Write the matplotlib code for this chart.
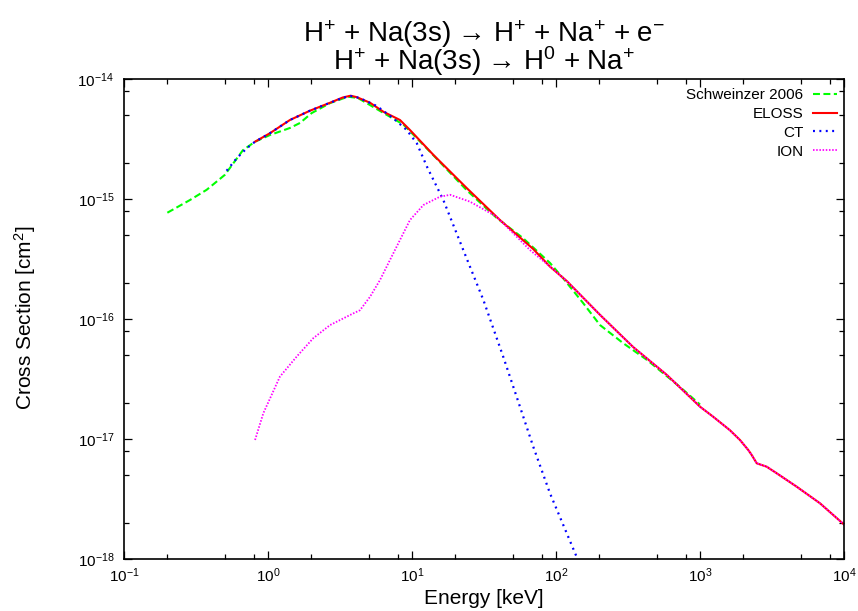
#!/usr/bin/env python
"""H+ + Na(3s) cross sections (ionisation + charge transfer), log-log."""
import matplotlib

matplotlib.use("Agg")
from matplotlib import pyplot as plt  # noqa: E402
from matplotlib import ticker  # noqa: E402

plt.rcParams["font.family"] = ["Liberation Sans", "DejaVu Sans"]
plt.rcParams["mathtext.fontset"] = "custom"
plt.rcParams["mathtext.rm"] = "Liberation Sans"
plt.rcParams["mathtext.it"] = "Liberation Sans:italic"
plt.rcParams["mathtext.default"] = "regular"
plt.rcParams["lines.scale_dashes"] = False

# ---- data (energy in keV, cross section in cm^2) ---------------------------
schw_e = [0.2, 0.287, 0.375, 0.502, 0.67, 0.813, 1.03, 1.42, 1.67, 2.01, 2.70,
          3.59, 4.2, 6.32, 8.71, 13.3, 24.0, 38.7, 59.0, 90.8, 112, 154, 202,
          292, 429, 726, 1000]
schw_s = [7.73e-16, 9.86e-16, 1.2e-15, 1.6e-15, 2.57e-15, 3.02e-15, 3.43e-15,
          3.93e-15, 4.33e-15, 5.23e-15, 6.34e-15, 7.16e-15, 7.0e-15, 5.25e-15,
          4.2e-15, 2.5e-15, 1.19e-15, 7.0e-16, 4.75e-16, 2.95e-16, 2.2e-16,
          1.37e-16, 8.96e-17, 6.34e-17, 4.58e-17, 2.73e-17, 1.95e-17]

eloss_e = [0.813, 1.03, 1.42, 1.96, 2.70, 3.3, 3.75, 4.13, 5.11, 6.32, 8.25,
           9.68, 14.1, 24.0, 40.8, 69.5, 90.8, 119, 202, 343, 590, 1000, 1236,
           1614, 1895, 2164, 2286, 2477, 2905, 3410, 4690, 6810, 10000]
eloss_s = [3.02e-15, 3.55e-15, 4.58e-15, 5.48e-15, 6.38e-15, 7.05e-15, 7.3e-15,
           7.1e-15, 6.38e-15, 5.37e-15, 4.58e-15, 3.78e-15, 2.34e-15, 1.24e-15,
           6.72e-16, 3.85e-16, 2.75e-16, 2.08e-16, 1.09e-16, 5.88e-17, 3.43e-17,
           1.87e-17, 1.54e-17, 1.19e-17, 9.87e-18, 8.14e-18, 7.4e-18, 6.31e-18,
           5.91e-18, 5.21e-18, 4.03e-18, 2.93e-18, 1.95e-18]

ct_e = [0.516, 0.607, 0.711, 0.813, 1.03, 1.42, 1.96, 2.70, 3.3, 3.75, 4.3,
        5.69, 7.42, 9.19, 10.8, 12.7, 16.5, 22.7, 31.3, 43.0, 53.3, 69.5, 90.8,
        139, 150]
ct_s = [1.73e-15, 2.2e-15, 2.66e-15, 3.02e-15, 3.55e-15, 4.58e-15, 5.48e-15,
        6.38e-15, 7.0e-15, 7.25e-15, 7.0e-15, 5.99e-15, 4.73e-15, 3.78e-15,
        2.93e-15, 1.87e-15, 9.87e-16, 3.78e-16, 1.45e-16, 4.88e-17, 2.26e-17,
        8.68e-18, 3.55e-18, 1.05e-18, 8.0e-19]

ion_e = [0.813, 0.928, 1.21, 1.58, 2.06, 2.70, 3.91, 4.35, 5.11, 5.99, 7.03,
         8.25, 9.68, 12.0, 15.6, 18.4, 25.3, 38.7, 65.9, 90.8, 119, 202, 343,
         590, 1000, 1236, 1614, 1895, 2164, 2286, 2477, 2905, 3410, 4690, 6810,
         10000]
ion_s = [9.87e-18, 1.65e-17, 3.33e-17, 4.88e-17, 6.95e-17, 8.96e-17, 1.12e-16,
         1.19e-16, 1.54e-16, 2.12e-16, 3.12e-16, 4.58e-16, 6.72e-16, 8.96e-16,
         1.05e-15, 1.09e-15, 9.55e-16, 7.16e-16, 3.78e-16, 2.75e-16, 2.08e-16,
         1.09e-16, 5.88e-17, 3.43e-17, 1.87e-17, 1.54e-17, 1.19e-17, 9.87e-18,
         8.14e-18, 7.4e-18, 6.31e-18, 5.91e-18, 5.21e-18, 4.03e-18, 2.93e-18,
         1.95e-18]

x_decades = [1e-1, 1e0, 1e1, 1e2, 1e3, 1e4]
y_decades = [1e-18, 1e-17, 1e-16, 1e-15, 1e-14]
minor_subs = [2, 5, 8]

TITLE = ("H$^{+}$ + Na(3s) \u2192 H$^{+}$ + Na$^{+}$ + e$^{-}$\n"
         "H$^{+}$ + Na(3s) \u2192 H$^{0}$ + Na$^{+}$")

W, H = 858, 611
L, R, T, B = 124, 844, 79.3, 559.3

fig = plt.figure(figsize=(W / 100, H / 100), dpi=100)
ax = fig.add_axes([L / W, 1 - B / H, (R - L) / W, (B - T) / H])

ax.plot(schw_e, schw_s, color="#00ff00", lw=1.5, dashes=(5, 2.5),
        label="Schweinzer 2006")
ax.plot(eloss_e, eloss_s, color="#ff0000", lw=1.5, label="ELOSS")
ax.plot(ct_e, ct_s, color="#0000ff", lw=1.6, dashes=(1.4, 3.2), label="CT")
ax.plot(ion_e, ion_s, color="#ff00ff", lw=1.3, dashes=(1.1, 1.2), label="ION")

ax.set_xscale("log")
ax.set_yscale("log")
ax.set_xlim(x_decades[0], x_decades[-1])
ax.set_ylim(y_decades[0], y_decades[-1])

ax.set_xticks(x_decades)
ax.set_yticks(y_decades)
ax.set_xticks([d * s for d in x_decades[:-1] for s in minor_subs], minor=True)
ax.set_yticks([d * s for d in y_decades[:-1] for s in minor_subs], minor=True)
ax.xaxis.set_major_formatter(ticker.LogFormatterSciNotation())
ax.yaxis.set_major_formatter(ticker.LogFormatterSciNotation())
ax.xaxis.set_minor_formatter(ticker.NullFormatter())
ax.yaxis.set_minor_formatter(ticker.NullFormatter())

ax.tick_params(which="both", direction="in", top=True, right=True,
               labelsize=11, width=0.9)
ax.tick_params(which="major", length=6)
ax.tick_params(which="minor", length=3.5)
ax.tick_params(axis="x", pad=5)
ax.tick_params(axis="y", pad=7)
for sp in ax.spines.values():
    sp.set_linewidth(1.2)

fig.text((L + R) / 2 / W, 1 - 48 / H, TITLE, ha="center", va="center",
         fontsize=20, linespacing=0.78)
fig.text((L + R) / 2 / W, 1 - 598 / H, "Energy [keV]", ha="center", va="center",
         fontsize=15)
fig.text(25 / W, 1 - 318 / H, r"Cross Section [cm$^{2}$]", ha="center",
         va="center", rotation=90, fontsize=15)

ax.legend(loc="upper right", bbox_to_anchor=(837 / W, 1 - 88 / H),
          bbox_transform=fig.transFigure, frameon=False, markerfirst=False,
          fontsize=11, handlelength=1.6, handletextpad=0.6, labelspacing=0.32,
          borderpad=0, borderaxespad=0)

fig.savefig("out.png", dpi=100, facecolor="white")
